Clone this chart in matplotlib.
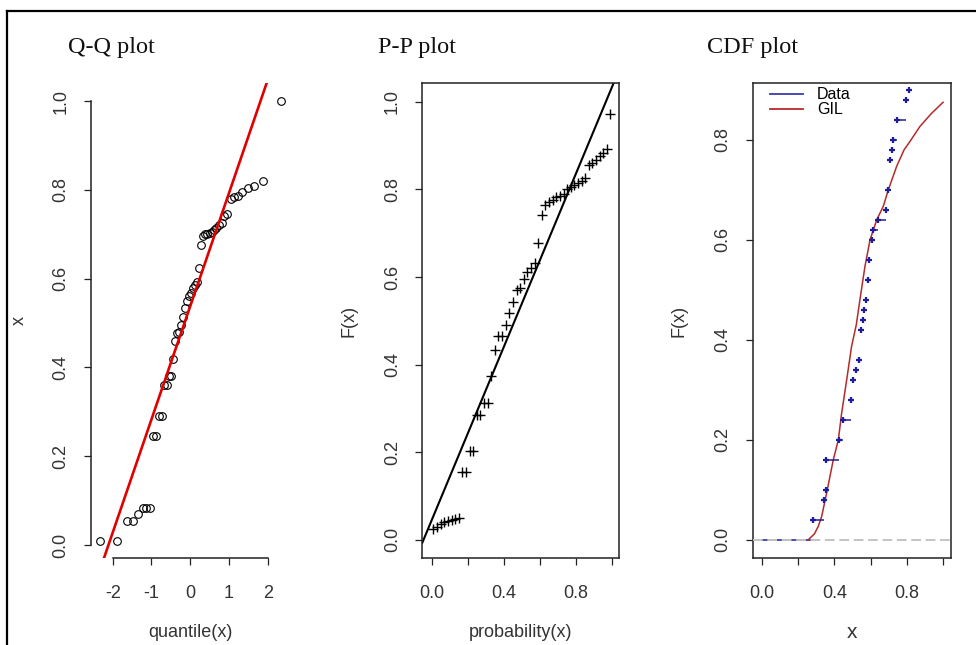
import matplotlib
matplotlib.use('Agg')
import matplotlib.pyplot as plt
from matplotlib.lines import Line2D

plt.rcParams['font.family'] = ['Liberation Sans', 'DejaVu Sans']
plt.rcParams['axes.unicode_minus'] = False

# ---- data ----
# Q-Q plot: normal quantiles of the plotting positions vs sorted sample
qq_quantiles = [-2.33, -1.88, -1.64, -1.48, -1.34, -1.23, -1.13, -1.04, -0.95, -0.88,
                -0.81, -0.74, -0.67, -0.61, -0.55, -0.50, -0.44, -0.39, -0.33, -0.28,
                -0.23, -0.18, -0.13, -0.08, -0.03, 0.03, 0.08, 0.13, 0.18, 0.23,
                0.28, 0.33, 0.39, 0.44, 0.50, 0.55, 0.61, 0.67, 0.74, 0.81,
                0.88, 0.95, 1.04, 1.13, 1.23, 1.34, 1.48, 1.64, 1.88, 2.33]
qq_values = [0.01, 0.01, 0.053, 0.053, 0.069, 0.083, 0.083, 0.083, 0.245, 0.245,
             0.29, 0.29, 0.36, 0.36, 0.38, 0.38, 0.42, 0.46, 0.477, 0.48,
             0.495, 0.514, 0.533, 0.55, 0.56, 0.567, 0.578, 0.586, 0.593, 0.625,
             0.675, 0.695, 0.70, 0.70, 0.703, 0.706, 0.71, 0.715, 0.72, 0.725,
             0.74, 0.745, 0.78, 0.783, 0.787, 0.795, 0.805, 0.808, 0.82, 1.0]
qq_intercept = 0.538
qq_slope = 0.255

# P-P plot
pp_probs = [0.01, 0.03, 0.05, 0.07, 0.09, 0.11, 0.13, 0.15, 0.17, 0.19,
            0.21, 0.23, 0.25, 0.27, 0.29, 0.31, 0.33, 0.35, 0.37, 0.39,
            0.41, 0.43, 0.45, 0.47, 0.49, 0.51, 0.53, 0.55, 0.57, 0.59,
            0.61, 0.63, 0.65, 0.67, 0.69, 0.71, 0.73, 0.75, 0.77, 0.79,
            0.81, 0.83, 0.85, 0.87, 0.89, 0.91, 0.93, 0.95, 0.97, 0.99]
pp_values = [0.025, 0.03, 0.036, 0.04, 0.043, 0.046, 0.048, 0.05, 0.156, 0.156,
             0.204, 0.204, 0.285, 0.285, 0.313, 0.313, 0.375, 0.434, 0.465, 0.465,
             0.49, 0.518, 0.544, 0.57, 0.575, 0.595, 0.612, 0.62, 0.632, 0.678,
             0.742, 0.765, 0.772, 0.775, 0.782, 0.785, 0.79, 0.80, 0.805, 0.81,
             0.815, 0.82, 0.825, 0.855, 0.86, 0.868, 0.876, 0.884, 0.892, 0.971]
pp_intercept = 0.045
pp_slope = 0.99

# CDF plot: empirical CDF steps and fitted GIL curve
cdf_x = [0.280, 0.343, 0.352, 0.354, 0.427, 0.446, 0.490, 0.505, 0.519, 0.534,
         0.547, 0.556, 0.565, 0.575, 0.584, 0.593, 0.606, 0.615, 0.643, 0.683,
         0.698, 0.707, 0.716, 0.725, 0.744, 0.794, 0.812]
cdf_F = [0.04, 0.08, 0.10, 0.16, 0.20, 0.24, 0.28, 0.32, 0.34, 0.36,
         0.42, 0.44, 0.46, 0.48, 0.52, 0.56, 0.60, 0.62, 0.64, 0.66,
         0.70, 0.76, 0.78, 0.80, 0.84, 0.88, 0.90]
gil_x = [0.256, 0.29, 0.311, 0.33, 0.357, 0.394, 0.422, 0.44, 0.468, 0.495,
         0.521, 0.541, 0.569, 0.597, 0.634, 0.67, 0.698, 0.744, 0.785, 0.818,
         0.873, 0.937, 1.0]
gil_F = [0.0, 0.012, 0.027, 0.047, 0.093, 0.16, 0.20, 0.253, 0.32, 0.387,
         0.43, 0.48, 0.547, 0.60, 0.64, 0.667, 0.70, 0.747, 0.78, 0.797,
         0.827, 0.853, 0.875]

W, H = 976, 645
fig = plt.figure(figsize=(W / 100, H / 100), dpi=100)


def px_axes(left, top, right, bottom):
    # place an axes by pixel edges (y measured from the top)
    return fig.add_axes([left / W, 1 - bottom / H, (right - left) / W, (bottom - top) / H])


def style_axes(ax, xticks, xlabels, yticks, ylabels):
    ax.set_xticks(xticks)
    ax.set_xticklabels(xlabels)
    ax.set_yticks(yticks)
    ax.set_yticklabels(ylabels)
    ax.tick_params(length=5, width=0.9, color='#222222', labelsize=13,
                   labelcolor='#333333')
    ax.tick_params(axis='x', pad=14.5)
    ax.tick_params(axis='y', pad=16.5)
    plt.setp(ax.get_yticklabels(), rotation=90, ha='center', va='center')
    for sp in ax.spines.values():
        sp.set_linewidth(1.1)
        sp.set_color('#222222')


def axis_labels(ax, xlabel, ylabel, xsize=13):
    ax.set_xlabel(xlabel, fontsize=xsize, color='#333333')
    ax.xaxis.set_label_coords(0.5, -0.157)
    ax.xaxis.label.set_va('center')
    ax.set_ylabel(ylabel, fontsize=13, color='#333333')
    ax.yaxis.set_label_coords(-0.37, 0.5)
    ax.yaxis.label.set_va('center')


# ---- Q-Q plot ----
ax1 = px_axes(91, 83.3, 289.5, 558.3)
ax1.plot(qq_quantiles, qq_values, 'o', mfc='none', mec='black', ms=5.5, mew=0.8)
ax1.axline((0, qq_intercept), slope=qq_slope, color='#e00000', lw=1.9)
ax1.set_xlim(-2.56, 2.56)
ax1.set_ylim(-0.03, 1.04)
style_axes(ax1, [-2, -1, 0, 1, 2], ['-2', '-1', '0', '1', '2'],
           [0, 0.2, 0.4, 0.6, 0.8, 1.0], ['0.0', '0.2', '0.4', '0.6', '0.8', '1.0'])
ax1.spines['top'].set_visible(False)
ax1.spines['right'].set_visible(False)
ax1.spines['left'].set_bounds(0, 1)
ax1.spines['bottom'].set_bounds(-2, 2)
axis_labels(ax1, 'quantile(x)', 'x')
ax1.yaxis.set_label_coords(-0.363, 0.5)

# ---- P-P plot ----
ax2 = px_axes(422.3, 83.3, 619.3, 558.3)
ax2.plot(pp_probs, pp_values, '+', color='black', ms=6.5, mew=1.0)
ax2.axline((0, pp_intercept), slope=pp_slope, color='black', lw=1.5)
ax2.set_xlim(-0.052, 1.039)
ax2.set_ylim(-0.042, 1.042)
style_axes(ax2, [0, 0.2, 0.4, 0.6, 0.8, 1.0], ['0.0', '', '0.4', '', '0.8', ''],
           [0, 0.2, 0.4, 0.6, 0.8, 1.0], ['0.0', '0.2', '0.4', '0.6', '0.8', '1.0'])
axis_labels(ax2, 'probability(x)', 'F(x)')

# ---- CDF plot ----
ax3 = px_axes(752.7, 83.3, 951, 558.3)
ax3.hlines(0, 0.0, cdf_x[0], color='#1c1c9c', lw=1.1, zorder=2)
ax3.hlines(cdf_F[:-1], cdf_x[:-1], cdf_x[1:], color='#1c1c9c', lw=1.1, zorder=3)
ax3.plot(cdf_x, cdf_F, '+', color='#1c1c9c', ms=5, mew=1.6, zorder=3)
ax3.plot(gil_x, gil_F, color='#b52a2a', lw=1.1, zorder=2.5)
ax3.axhline(0, color='#c4c4c4', lw=1.4, ls=(0, (5, 2.4)), zorder=4)
ax3.set_xlim(-0.051, 1.044)
ax3.set_ylim(-0.037, 0.913)
style_axes(ax3, [0, 0.2, 0.4, 0.6, 0.8, 1.0], ['0.0', '', '0.4', '', '0.8', ''],
           [0, 0.2, 0.4, 0.6, 0.8], ['0.0', '0.2', '0.4', '0.6', '0.8'])
axis_labels(ax3, 'x', 'F(x)', xsize=15)

handles = [Line2D([], [], color='#3b3bb0', lw=1.3), Line2D([], [], color='#b52a2a', lw=1.3)]
ax3.legend(handles, ['Data', 'GIL'], loc='upper left', bbox_to_anchor=(0.087, 0.992),
           frameon=False, fontsize=11.5, handlelength=2.05, handletextpad=0.9,
           labelspacing=0.0, borderpad=0, borderaxespad=0)

# ---- titles ----
for x0, title in [(68, 'Q-Q plot'), (378, 'P-P plot'), (707, 'CDF plot')]:
    fig.text(x0 / W, 1 - 47 / H, title, family='Liberation Serif', size=17.5,
             va='center', ha='left', color='#111111')

# outer frame (left and top edges visible in the picture)
fig.add_artist(Line2D([7 / W, 7 / W], [0, 1 - 11 / H], transform=fig.transFigure,
                      color='black', lw=1.6))
fig.add_artist(Line2D([7 / W, 1], [1 - 11 / H, 1 - 11 / H], transform=fig.transFigure,
                      color='black', lw=1.6))

fig.savefig('out.png', dpi=100)
